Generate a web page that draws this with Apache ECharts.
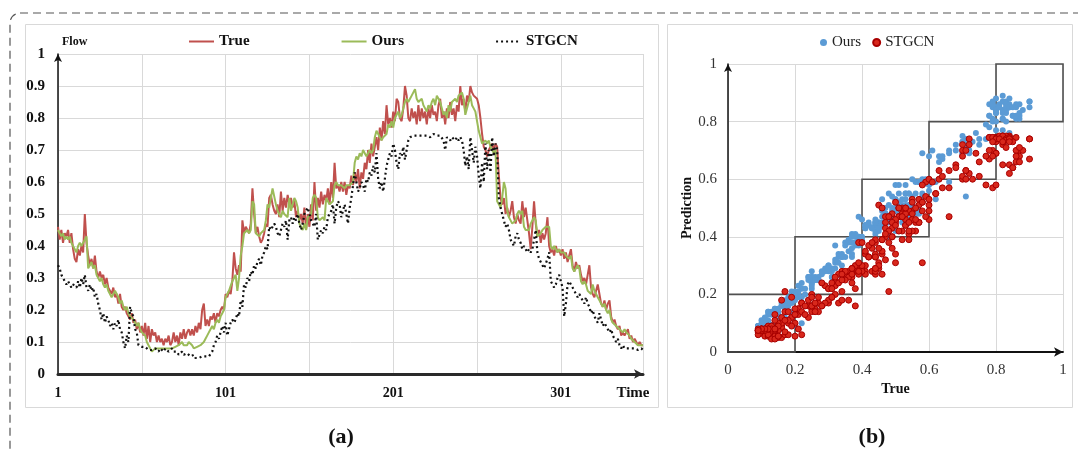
<!DOCTYPE html>
<html>
<head>
<meta charset="utf-8">
<script src="https://cdn.jsdelivr.net/npm/echarts@6/dist/echarts.min.js"></script>
<style>
  html, body { margin: 0; padding: 0; background: #fff; }
  #wrap { position: relative; width: 1078px; height: 452px; overflow: hidden; }
  #a { position: absolute; left: 0; top: 0; width: 1078px; height: 452px; }
  #b { position: absolute; left: 660px; top: 0; width: 418px; height: 452px; }
</style>
</head>
<body>
<div id="wrap"><div id="a"></div><div id="b"></div></div>
<script>
// ---------- DATA ----------
const seriesNames = ['True', 'Ours', 'STGCN'];
const timeTickLabels = ['1', '101', '201', '301'];
const yTickLabelsLeft = ['0', '0.1', '0.2', '0.3', '0.4', '0.5', '0.6', '0.7', '0.8', '0.9', '1'];

const trueFlow = [
  0.46,0.42,0.45,0.41,0.44,0.43,0.45,0.41,0.44,0.39,
  0.36,0.35,0.39,0.37,0.40,0.38,0.50,0.41,0.37,0.34,
  0.36,0.33,0.37,0.32,0.30,0.32,0.30,0.31,0.28,0.30,
  0.27,0.26,0.25,0.27,0.24,0.25,0.22,0.25,0.21,0.20,
  0.21,0.19,0.18,0.17,0.19,0.16,0.17,0.14,0.16,0.13,
  0.15,0.12,0.16,0.11,0.15,0.10,0.14,0.12,0.13,0.10,
  0.12,0.10,0.11,0.09,0.11,0.10,0.12,0.09,0.10,0.13,
  0.10,0.12,0.09,0.13,0.11,0.14,0.11,0.13,0.14,0.12,
  0.14,0.12,0.15,0.13,0.16,0.14,0.20,0.22,0.15,0.17,
  0.15,0.18,0.17,0.19,0.16,0.19,0.18,0.20,0.21,0.20,
  0.25,0.24,0.26,0.25,0.29,0.38,0.33,0.31,0.34,0.32,
  0.48,0.44,0.46,0.45,0.44,0.47,0.58,0.50,0.44,0.46,
  0.43,0.41,0.42,0.44,0.47,0.46,0.55,0.56,0.53,0.51,
  0.50,0.53,0.49,0.57,0.51,0.55,0.52,0.56,0.53,0.55,
  0.52,0.54,0.49,0.51,0.48,0.50,0.47,0.52,0.45,0.50,
  0.46,0.53,0.48,0.60,0.51,0.55,0.52,0.57,0.53,0.56,
  0.54,0.58,0.53,0.60,0.55,0.66,0.58,0.59,0.57,0.60,
  0.57,0.60,0.56,0.59,0.58,0.62,0.59,0.63,0.60,0.64,
  0.58,0.63,0.61,0.66,0.64,0.70,0.66,0.72,0.68,0.71,
  0.74,0.70,0.77,0.73,0.79,0.75,0.84,0.78,0.80,0.77,
  0.82,0.79,0.86,0.85,0.80,0.79,0.83,0.90,0.87,0.80,
  0.79,0.83,0.80,0.82,0.78,0.84,0.79,0.83,0.80,0.82,
  0.78,0.83,0.80,0.84,0.81,0.82,0.79,0.84,0.86,0.80,
  0.82,0.78,0.83,0.80,0.85,0.81,0.83,0.79,0.84,0.82,
  0.90,0.84,0.86,0.82,0.87,0.85,0.90,0.88,0.87,0.87,
  0.86,0.84,0.80,0.75,0.71,0.70,0.68,0.70,0.71,0.72,
  0.70,0.72,0.71,0.62,0.55,0.53,0.55,0.50,0.52,0.49,
  0.51,0.54,0.49,0.47,0.50,0.48,0.47,0.54,0.49,0.52,
  0.48,0.44,0.39,0.46,0.54,0.47,0.43,0.45,0.41,0.44,
  0.42,0.44,0.49,0.40,0.38,0.39,0.37,0.40,0.38,0.39,
  0.37,0.39,0.36,0.38,0.35,0.37,0.39,0.34,0.32,0.35,
  0.33,0.34,0.31,0.29,0.30,0.28,0.31,0.34,0.27,0.25,
  0.24,0.26,0.28,0.25,0.22,0.21,0.23,0.20,0.22,0.23,
  0.18,0.16,0.17,0.15,0.14,0.15,0.12,0.13,0.12,0.13,
  0.14,0.11,0.12,0.10,0.11,0.10,0.09,0.10,0.09,0.09
];

const oursFlow = [
  0.45,0.44,0.43,0.44,0.42,0.43,0.42,0.43,0.41,0.40,
  0.39,0.38,0.40,0.41,0.40,0.41,0.42,0.43,0.33,0.34,
  0.35,0.33,0.34,0.31,0.30,0.29,0.30,0.28,0.27,0.28,
  0.26,0.25,0.24,0.25,0.26,0.26,0.24,0.22,0.23,0.21,
  0.20,0.21,0.19,0.18,0.18,0.17,0.16,0.15,0.16,0.14,
  0.13,0.13,0.12,0.10,0.09,0.08,0.07,0.07,0.08,0.08,
  0.08,0.08,0.08,0.075,0.08,0.08,0.08,0.085,0.08,0.08,
  0.085,0.09,0.09,0.095,0.10,0.09,0.09,0.09,0.10,0.10,
  0.09,0.08,0.08,0.085,0.08,0.09,0.09,0.10,0.11,0.12,
  0.13,0.14,0.15,0.14,0.16,0.17,0.16,0.18,0.19,0.20,
  0.24,0.25,0.26,0.26,0.29,0.30,0.31,0.26,0.30,0.37,
  0.40,0.44,0.44,0.45,0.44,0.45,0.54,0.53,0.44,0.44,
  0.43,0.44,0.44,0.45,0.48,0.53,0.52,0.55,0.58,0.58,
  0.53,0.51,0.50,0.49,0.51,0.50,0.50,0.49,0.55,0.51,
  0.53,0.55,0.54,0.52,0.47,0.46,0.45,0.47,0.45,0.49,
  0.49,0.50,0.55,0.56,0.55,0.49,0.48,0.48,0.49,0.48,
  0.55,0.55,0.53,0.53,0.54,0.59,0.60,0.59,0.59,0.59,
  0.59,0.58,0.59,0.585,0.59,0.59,0.60,0.66,0.68,0.67,
  0.69,0.68,0.70,0.69,0.68,0.69,0.70,0.69,0.70,0.74,
  0.76,0.75,0.74,0.73,0.74,0.74,0.75,0.78,0.77,0.79,
  0.77,0.80,0.81,0.82,0.80,0.81,0.83,0.85,0.86,0.85,
  0.86,0.87,0.88,0.89,0.86,0.85,0.85,0.86,0.84,0.83,
  0.82,0.84,0.83,0.85,0.86,0.84,0.87,0.86,0.85,0.83,
  0.81,0.82,0.80,0.84,0.82,0.85,0.85,0.86,0.85,0.87,
  0.87,0.88,0.86,0.81,0.81,0.85,0.87,0.84,0.83,0.82,
  0.82,0.76,0.74,0.72,0.72,0.73,0.72,0.73,0.71,0.70,
  0.69,0.70,0.54,0.53,0.52,0.55,0.60,0.58,0.51,0.49,
  0.48,0.47,0.47,0.48,0.50,0.51,0.50,0.51,0.46,0.45,
  0.45,0.45,0.47,0.47,0.49,0.48,0.43,0.43,0.44,0.45,
  0.45,0.46,0.46,0.46,0.40,0.39,0.40,0.39,0.38,0.39,
  0.38,0.38,0.38,0.37,0.37,0.36,0.37,0.33,0.32,0.33,
  0.34,0.33,0.29,0.28,0.29,0.28,0.26,0.26,0.25,0.28,
  0.26,0.25,0.24,0.23,0.22,0.21,0.22,0.20,0.19,0.20,
  0.17,0.16,0.16,0.15,0.15,0.14,0.14,0.13,0.14,0.13,
  0.13,0.12,0.11,0.11,0.10,0.10,0.09,0.09,0.09,0.09
];

const stgcnFlow = [
  0.34,0.33,0.31,0.30,0.29,0.28,0.29,0.28,0.27,0.28,
  0.28,0.27,0.29,0.27,0.30,0.28,0.31,0.27,0.26,0.28,
  0.26,0.27,0.24,0.25,0.22,0.20,0.17,0.19,0.16,0.18,
  0.17,0.15,0.16,0.14,0.16,0.15,0.17,0.14,0.13,0.10,
  0.08,0.12,0.10,0.21,0.19,0.18,0.14,0.13,0.09,0.09,
  0.085,0.09,0.085,0.08,0.075,0.08,0.075,0.07,0.08,0.075,
  0.07,0.08,0.075,0.07,0.08,0.075,0.07,0.075,0.08,0.07,
  0.065,0.07,0.06,0.065,0.07,0.06,0.055,0.065,0.06,0.055,
  0.055,0.06,0.05,0.045,0.05,0.045,0.055,0.06,0.055,0.06,
  0.055,0.06,0.07,0.09,0.10,0.12,0.11,0.13,0.15,0.13,
  0.16,0.12,0.14,0.16,0.17,0.16,0.17,0.19,0.18,0.23,
  0.21,0.28,0.27,0.30,0.29,0.32,0.31,0.34,0.33,0.35,
  0.36,0.34,0.37,0.38,0.40,0.39,0.46,0.45,0.46,0.47,
  0.46,0.44,0.43,0.45,0.47,0.46,0.48,0.42,0.48,0.49,
  0.47,0.49,0.48,0.50,0.47,0.45,0.47,0.50,0.51,0.52,
  0.50,0.48,0.47,0.46,0.50,0.42,0.42,0.45,0.44,0.46,
  0.45,0.49,0.50,0.51,0.53,0.47,0.52,0.54,0.53,0.49,
  0.51,0.53,0.50,0.47,0.52,0.55,0.59,0.63,0.60,0.57,
  0.58,0.60,0.59,0.57,0.61,0.60,0.63,0.62,0.65,0.63,
  0.69,0.61,0.58,0.60,0.57,0.61,0.65,0.67,0.69,0.68,
  0.72,0.70,0.66,0.64,0.69,0.68,0.71,0.67,0.70,0.73,
  0.74,0.74,0.745,0.74,0.745,0.75,0.745,0.74,0.745,0.75,
  0.745,0.75,0.74,0.745,0.75,0.75,0.745,0.74,0.745,0.74,
  0.73,0.70,0.74,0.74,0.73,0.74,0.735,0.73,0.74,0.73,
  0.74,0.73,0.70,0.65,0.68,0.64,0.74,0.70,0.66,0.71,
  0.68,0.62,0.58,0.66,0.60,0.72,0.64,0.70,0.63,0.74,
  0.68,0.72,0.70,0.55,0.52,0.50,0.48,0.46,0.47,0.45,
  0.42,0.41,0.40,0.43,0.44,0.42,0.41,0.39,0.40,0.39,
  0.38,0.39,0.38,0.39,0.42,0.45,0.38,0.36,0.35,0.34,
  0.33,0.33,0.36,0.38,0.29,0.28,0.27,0.28,0.30,0.31,
  0.29,0.27,0.18,0.22,0.28,0.29,0.28,0.27,0.26,0.25,
  0.24,0.25,0.24,0.23,0.22,0.24,0.22,0.21,0.19,0.20,
  0.18,0.17,0.16,0.19,0.17,0.15,0.16,0.15,0.14,0.13,
  0.14,0.12,0.11,0.10,0.11,0.09,0.08,0.09,0.08,0.08,
  0.08,0.075,0.08,0.075,0.08,0.075,0.075,0.08,0.08,0.075
];

// time steps 1..N (category labels)
const timeSteps = trueFlow.map((_, k) => String(k + 1));
// scatter (b): each time step as (true, prediction)
const oursPairs = trueFlow.map((t, k) => [t, oursFlow[k]]);
const stgcnPairs = trueFlow.map((t, k) => [t, stgcnFlow[k]]);
// reference squares along the diagonal in (b)
const boxEdges = [0, 0.2, 0.4, 0.6, 0.8, 1];

// ---------- STYLE ----------
const SERIF = '"Liberation Serif", "DejaVu Serif", serif';
const cRed = '#c0504d', cGreen = '#9bbb59', cBlack = '#111111';
const cBlue = '#5b9bd5';

// ---------- CHART (a) + page decorations ----------
const chartA = echarts.init(document.getElementById('a'));
chartA.setOption({
  animation: false,
  textStyle: { fontFamily: SERIF },
  graphic: [
    { type: 'rect', silent: true, z: -10,
      shape: { x: 10, y: 13, width: 1120, height: 520, r: 10 },
      style: { fill: 'none', stroke: '#555', lineWidth: 1.2, lineDash: [8, 5] } },
    { type: 'rect', silent: true, z: -9,
      shape: { x: 25.5, y: 24.5, width: 633, height: 383 },
      style: { fill: 'none', stroke: '#d9d9d9', lineWidth: 1 } },
    { type: 'rect', silent: true, z: -9,
      shape: { x: 667.5, y: 24.5, width: 405, height: 383 },
      style: { fill: 'none', stroke: '#d9d9d9', lineWidth: 1 } },
    { type: 'text', silent: true, x: 341, y: 437,
      style: { text: '(a)', font: 'bold 22px ' + SERIF, fill: '#111', textAlign: 'center', textVerticalAlign: 'middle' } },
    { type: 'text', silent: true, x: 872, y: 437,
      style: { text: '(b)', font: 'bold 22px ' + SERIF, fill: '#111', textAlign: 'center', textVerticalAlign: 'middle' } }
  ],
  legend: {
    data: seriesNames,
    left: 188, top: 34, padding: 0,
    itemWidth: 25, itemHeight: 14, itemGap: 91,
    itemStyle: { opacity: 0 },
    textStyle: { fontFamily: SERIF, fontWeight: 'bold', fontSize: 15, color: '#111' }
  },
  grid: { left: 58, top: 54, width: 585, height: 320, containLabel: false },
  xAxis: {
    type: 'category',
    data: timeSteps,
    boundaryGap: false,
    name: 'Time',
    nameLocation: 'end',
    nameGap: -10,
    nameTextStyle: { fontFamily: SERIF, fontWeight: 'bold', fontSize: 15, color: '#111',
                     align: 'center', verticalAlign: 'top', padding: [12, 0, 0, 0] },
    axisLine: { show: true, lineStyle: { color: '#2a2a2a', width: 3 },
                symbol: ['none', 'arrow'], symbolSize: [7, 9] },
    axisTick: { show: false },
    axisLabel: {
      interval: (idx, val) => timeTickLabels.includes(String(val)),
      margin: 12, fontFamily: SERIF, fontWeight: 'bold', fontSize: 14, color: '#111'
    },
    splitLine: {
      show: true,
      interval: (idx) => idx % 50 === 0 || idx === timeSteps.length - 1,
      lineStyle: { color: '#d9d9d9', width: 1 }
    }
  },
  yAxis: {
    type: 'value', min: 0, max: 1, interval: 0.1,
    name: 'Flow',
    nameLocation: 'end',
    nameGap: 6,
    nameTextStyle: { fontFamily: SERIF, fontWeight: 'bold', fontSize: 12, color: '#111',
                     align: 'left', padding: [0, 0, 0, 4] },
    axisLine: { show: true, lineStyle: { color: '#111', width: 1.5 },
                symbol: ['none', 'arrow'], symbolSize: [6, 8] },
    axisTick: { show: false },
    axisLabel: {
      margin: 13, fontFamily: SERIF, fontWeight: 'bold', fontSize: 15, color: '#111',
      formatter: (v) => yTickLabelsLeft[Math.round(v * 10)]
    },
    splitLine: { show: true, lineStyle: { color: '#d9d9d9', width: 1 } }
  },
  series: [
    { name: seriesNames[0], type: 'line', data: trueFlow, symbol: 'none',
      lineStyle: { color: cRed, width: 2 }, itemStyle: { color: cRed }, z: 2 },
    { name: seriesNames[1], type: 'line', data: oursFlow, symbol: 'none',
      lineStyle: { color: cGreen, width: 2 }, itemStyle: { color: cGreen }, z: 3 },
    { name: seriesNames[2], type: 'line', data: stgcnFlow, symbol: 'none',
      lineStyle: { color: cBlack, width: 2.2, type: [2, 3] }, itemStyle: { color: cBlack }, z: 4 }
  ]
});

// ---------- CHART (b) ----------
const chartB = echarts.init(document.getElementById('b'));
const boxData = boxEdges.slice(0, -1).map((e, k) => [
  { xAxis: e, yAxis: e },
  { xAxis: boxEdges[k + 1], yAxis: boxEdges[k + 1] }
]);
chartB.setOption({
  animation: false,
  backgroundColor: 'transparent',
  textStyle: { fontFamily: SERIF },
  legend: {
    data: [seriesNames[1], seriesNames[2]],
    left: 160, top: 35, padding: 0,
    itemWidth: 7, itemHeight: 7, itemGap: 11,
    icon: 'circle',
    textStyle: { fontFamily: SERIF, fontSize: 15, color: '#222' }
  },
  grid: { left: 68, top: 64, width: 335, height: 288, containLabel: false },
  xAxis: {
    type: 'value', min: 0, max: 1, interval: 0.2,
    name: 'True', nameLocation: 'middle', nameGap: 30, nameMoveOverlap: false,
    nameTextStyle: { fontFamily: SERIF, fontWeight: 'bold', fontSize: 14, color: '#111' },
    axisLine: { show: true, onZero: false, lineStyle: { color: '#111', width: 1.8 },
                symbol: ['none', 'arrow'], symbolSize: [7, 9] },
    axisTick: { show: false },
    axisLabel: { margin: 11, fontFamily: SERIF, fontSize: 15, color: '#333' },
    splitLine: { show: true, lineStyle: { color: '#d9d9d9', width: 1 } }
  },
  yAxis: {
    type: 'value', min: 0, max: 1, interval: 0.2,
    name: 'Prediction', nameLocation: 'middle', nameGap: 34, nameRotate: 90, nameMoveOverlap: false,
    nameTextStyle: { fontFamily: SERIF, fontWeight: 'bold', fontSize: 14, color: '#111' },
    axisLine: { show: true, onZero: false, lineStyle: { color: '#111', width: 1.5 },
                symbol: ['none', 'arrow'], symbolSize: [6, 8] },
    axisTick: { show: false },
    axisLabel: { margin: 11, fontFamily: SERIF, fontSize: 15, color: '#333' },
    splitLine: { show: true, lineStyle: { color: '#d9d9d9', width: 1 } }
  },
  series: [
    { name: seriesNames[1], type: 'scatter', data: oursPairs, symbolSize: 6,
      itemStyle: { color: cBlue, opacity: 1 }, z: 2 },
    { name: seriesNames[2], type: 'scatter', data: stgcnPairs, symbolSize: 6,
      itemStyle: { color: '#d8281c', borderColor: '#a80000', borderWidth: 1, opacity: 1 }, z: 3,
      markArea: {
        silent: true,
        itemStyle: { color: 'rgba(0,0,0,0)', borderColor: '#505050', borderWidth: 1.6 },
        emphasis: { disabled: true },
        data: boxData
      }
    }
  ]
});
</script>
</body>
</html>
